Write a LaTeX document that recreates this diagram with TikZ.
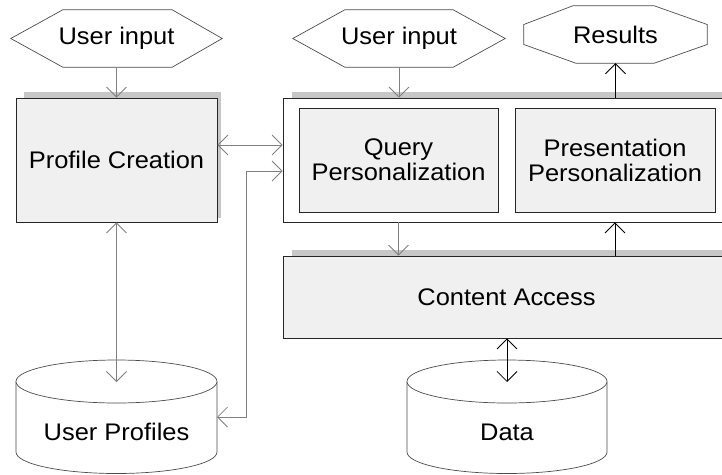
\documentclass[tikz,border=0pt]{standalone}
\usepackage{fontspec}
\setmainfont{Liberation Sans}[FakeStretch=1.06]
\usetikzlibrary{arrows.meta,calc}

\begin{document}
\begin{tikzpicture}[x=1pt,y=-1pt,
  every node/.style={font=\fontsize{24}{25}\selectfont, inner sep=0pt, align=center},
  shadowbar/.style={fill=black!22},
  box/.style={draw=black!85, fill=black!6, line width=0.8pt},
  frame/.style={draw=black!85, fill=white, line width=0.8pt},
  outline/.style={draw=black!70, fill=white, line width=0.7pt},
  barbtip/.tip={Straight Barb[length=10pt,width=20pt,line width=0.8pt]},
  glink/.style={draw=black!50, line width=0.9pt},
  blink/.style={draw=black, line width=0.9pt},
]
\useasboundingbox (0,0) rectangle (722,474);
\clip (0,0) rectangle (722,474);

% ---- left column: input, profile creation, profile store
\node[minimum width=211, minimum height=57] (in1) at (116.5,38.5) {};
\draw[outline] (in1.west) -- ([xshift=52pt]in1.north west) -- ([xshift=-50pt]in1.north east)
  -- (in1.east) -- ([xshift=-50pt]in1.south east) -- ([xshift=52pt]in1.south west) -- cycle;
\node at (in1) {User input};

\fill[shadowbar] (24,92) rectangle (221,218);
\node[box, minimum width=201, minimum height=124] (pc) at (116.5,160) {Profile Creation};

% user profile cylinder
\draw[outline] (16,381.5) -- (16,452) arc[start angle=180, end angle=0, x radius=100.5, y radius=21.5]
  -- (217,381.5);
\draw[outline] (116.5,381.5) ellipse [x radius=100.5, y radius=21.5];
\node (upr) at (116.5,432) {User Profiles};
\coordinate (uprtop) at (116.5,382);
\coordinate (uprside) at (217,417);

% ---- right column: input, results, personalization frame
\node[minimum width=212, minimum height=57] (in2) at (399,38.5) {};
\draw[outline] (in2.west) -- ([xshift=52pt]in2.north west) -- ([xshift=-52pt]in2.north east)
  -- (in2.east) -- ([xshift=-52pt]in2.south east) -- ([xshift=52pt]in2.south west) -- cycle;
\node at (in2) {User input};

\node[minimum width=183, minimum height=57] (res) at (615.5,34.5) {};
\draw[outline] ([yshift=10pt]res.west) -- ([xshift=49pt]res.north west) -- ([xshift=-53pt]res.north east)
  -- ([yshift=10pt]res.east) -- ([yshift=-10pt]res.east) -- ([xshift=-53pt]res.south east)
  -- ([xshift=52pt]res.south west) -- ([yshift=-10pt]res.west) -- cycle;
\node at (res) {Results};

\fill[shadowbar] (292,92) rectangle (740,98);
\node[frame, minimum width=447, minimum height=124] (outer) at (506.5,160) {};
\node[box, minimum width=199, minimum height=104] (qp) at (398.5,160) {Query\\Personalization};
\node[box, minimum width=200, minimum height=104] (pp) at (615,160) {Presentation\\Personalization};

\fill[shadowbar] (292,250) rectangle (740,256);
\node[box, minimum width=447, minimum height=82] (ca) at (506.5,297) {Content Access};

% data cylinder
\draw[outline] (407,381.5) -- (407,452) arc[start angle=180, end angle=0, x radius=100, y radius=21.5]
  -- (607,381.5);
\draw[outline] (507,381.5) ellipse [x radius=100, y radius=21.5];
\node (data) at (507,432) {Data};
\coordinate (datatop) at (507,382);

% ---- connectors
\draw[glink, -barbtip] (in1.south) -- (pc.north);
\draw[glink, barbtip-barbtip] ([yshift=15pt]pc.east) -- ([yshift=15pt]outer.west);
\draw[glink, barbtip-barbtip] (uprside) -| ([xshift=-36pt,yshift=-11pt]outer.west)
  -- ([yshift=-11pt]outer.west);
\draw[glink, barbtip-barbtip] (pc.south) -- (uprtop);
\draw[glink, -barbtip] (in2.south) -- (in2.south |- outer.north);
\draw[blink, -barbtip] (res.south |- outer.north) -- (res.south);
\draw[glink, -barbtip] (qp.south |- outer.south) -- (qp.south |- ca.north);
\draw[blink, -barbtip] (pp.south |- ca.north) -- (pp.south |- outer.south);
\draw[blink, barbtip-barbtip] (ca.south -| datatop) -- (datatop);
\end{tikzpicture}
\end{document}
